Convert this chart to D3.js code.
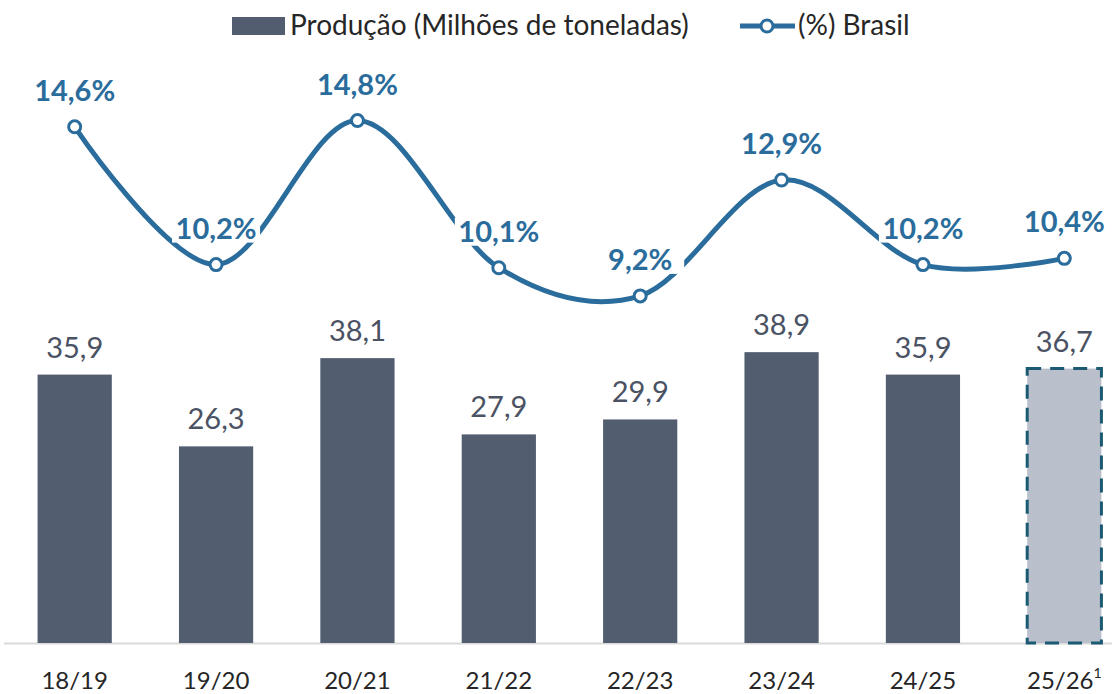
<!DOCTYPE html>
<head>
  <meta charset="utf-8">
  <script src="https://cdn.jsdelivr.net/npm/d3@7/dist/d3.min.js"></script>
  <style>
    body { font-family: Lato, "Noto Sans", sans-serif; margin:0; background:#fff; }
    svg { display:block; }
  </style>
</head>
<body>
  <script>
    // dados
    var safras = ["18/19", "19/20", "20/21", "21/22", "22/23", "23/24", "24/25", "25/26"];
    var producao = [35.9, 26.3, 38.1, 27.9, 29.9, 38.9, 35.9, 36.7];
    var brasil = [14.6, 10.2, 14.8, 10.1, 9.2, 12.9, 10.2, 10.4];
    var estimativa = "25/26"; // ultima safra = estimativa (nota 1)

    var width = 1112,
        height = 694;

    var svg = d3.select("body").append("svg")
      .attr("width", width)
      .attr("height", height);

    var x = d3.scaleBand().domain(safras).range([4, 1135]).paddingInner(0.475).paddingOuter(0.2375);
    var y = d3.scaleLinear().domain([0, 86]).range([643, 0]);
    var yPct = d3.scaleLinear().domain([0, 18.65]).range([584, 0]);

    var fmt = function(v) { return d3.format(".1f")(v).replace(".", ","); };

    // linha do eixo
    svg.append("line")
      .attr("x1", 4).attr("x2", width)
      .attr("y1", 643.5).attr("y2", 643.5)
      .attr("stroke", "#d9d9d9").attr("stroke-width", 2);

    // barras
    svg.selectAll("rect.bar").data(safras).enter().append("rect")
      .attr("class", "bar")
      .attr("x", function(d) { return x(d); })
      .attr("width", x.bandwidth())
      .attr("y", function(d, i) { return y(producao[i]); })
      .attr("height", function(d, i) { return y(0) - y(producao[i]); })
      .attr("fill", function(d) { return d == estimativa ? "#b9bfcb" : "#525d6f"; })
      .attr("stroke", function(d) { return d == estimativa ? "#1b5a72" : "none"; })
      .attr("stroke-width", 3)
      .attr("stroke-dasharray", "14,9");

    svg.selectAll("text.vbar").data(safras).enter().append("text")
      .attr("class", "vbar")
      .attr("x", function(d) { return x(d) + x.bandwidth() / 2; })
      .attr("y", function(d, i) { return y(producao[i]) - 17; })
      .attr("text-anchor", "middle")
      .attr("font-size", 29)
      .attr("fill", "#4a5263")
      .text(function(d, i) { return fmt(producao[i]); });

    // linha % Brasil
    var line = d3.line()
      .x(function(d, i) { return x(safras[i]) + x.bandwidth() / 2; })
      .y(function(d) { return yPct(d); })
      .curve(d3.curveCardinal.tension(0));

    var azul = "#2a6c9b";

    svg.append("path").datum(brasil)
      .attr("d", line)
      .attr("fill", "none")
      .attr("stroke", azul)
      .attr("stroke-width", 5);

    svg.selectAll("circle.pt").data(brasil).enter().append("circle")
      .attr("class", "pt")
      .attr("cx", function(d, i) { return x(safras[i]) + x.bandwidth() / 2; })
      .attr("cy", function(d) { return yPct(d); })
      .attr("r", 6)
      .attr("fill", "#fff")
      .attr("stroke", azul)
      .attr("stroke-width", 3);

    var lbl = svg.selectAll("g.pct").data(brasil).enter().append("g")
      .attr("class", "pct")
      .attr("transform", function(d, i) {
        return "translate(" + (x(safras[i]) + x.bandwidth() / 2) + "," + (yPct(d) - 26) + ")";
      });
    lbl.append("rect")
      .attr("x", -44).attr("y", -24).attr("width", 88).attr("height", 28)
      .attr("fill", "#fff");
    lbl.append("text")
      .attr("text-anchor", "middle")
      .attr("font-size", 29)
      .attr("font-weight", 700)
      .attr("fill", azul)
      .text(function(d) { return fmt(d) + "%"; });

    // eixo x
    var xl = svg.selectAll("text.xl").data(safras).enter().append("text")
      .attr("class", "xl")
      .attr("x", function(d) { return x(d) + x.bandwidth() / 2; })
      .attr("y", 689)
      .attr("text-anchor", "middle")
      .attr("font-size", 24)
      .attr("fill", "#262626")
      .text(function(d) { return d; });
    xl.filter(function(d) { return d == estimativa; })
      .append("tspan").attr("dy", -11).attr("font-size", 14).text("1");

    // legenda
    svg.append("rect").attr("x", 232).attr("y", 17).attr("width", 53).attr("height", 18).attr("fill", "#525d6f");
    svg.append("text").attr("x", 290).attr("y", 35).attr("font-size", 28).attr("fill", "#262626")
      .text("Produção (Milhões de toneladas)");
    svg.append("line").attr("x1", 740).attr("x2", 795).attr("y1", 26).attr("y2", 26)
      .attr("stroke", azul).attr("stroke-width", 5);
    svg.append("circle").attr("cx", 767).attr("cy", 26).attr("r", 6)
      .attr("fill", "#fff").attr("stroke", azul).attr("stroke-width", 3);
    svg.append("text").attr("x", 798).attr("y", 35).attr("font-size", 28).attr("fill", "#262626")
      .text("(%) Brasil");
  </script>
</body>
